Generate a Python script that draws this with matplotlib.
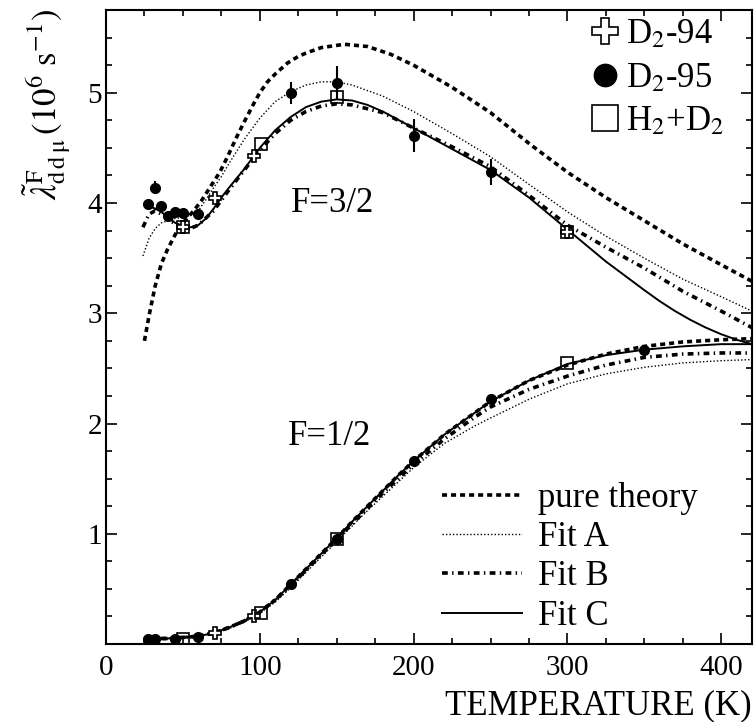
import matplotlib
matplotlib.use("Agg")
import matplotlib.pyplot as plt
from matplotlib.ticker import MultipleLocator
from matplotlib.lines import Line2D

plt.rcParams['font.family'] = ['Liberation Serif', 'DejaVu Serif']
plt.rcParams['mathtext.fontset'] = 'stix'

# ---------------- data ----------------
# F = 3/2 measured points
d294_T_32 = [50, 71, 96, 300]
d294_y_32 = [3.78, 4.05, 4.43, 3.74]
d295_T_32 = [27, 32, 36, 40, 45, 50, 60, 120, 150, 200, 250]
d295_y_32 = [3.99, 4.14, 3.97, 3.88, 3.92, 3.91, 3.90, 5.00, 5.09, 4.61, 4.28]
d295_e_32 = [0.02, 0.06, 0.03, 0.03, 0.04, 0.04, 0.03, 0.10, 0.15, 0.15, 0.12]
hd_T_32 = [50, 101, 150, 300]
hd_y_32 = [3.78, 4.54, 4.96, 3.74]

# F = 1/2 measured points
d294_T_12 = [71, 96]
d294_y_12 = [0.10, 0.25]
d295_T_12 = [27, 32, 45, 60, 120, 150, 200, 250, 350]
d295_y_12 = [0.05, 0.05, 0.05, 0.06, 0.54, 0.95, 1.66, 2.22, 2.67]
hd_T_12 = [50, 101, 150, 300]
hd_y_12 = [0.05, 0.28, 0.95, 2.55]

# F = 3/2 curves
pure_T_32 = [25, 28, 32, 36, 40, 46, 50, 57, 62, 68, 74, 79, 85, 90, 96, 100, 105, 110, 118, 125,
             130, 140, 155, 170, 185, 200, 225, 250, 276, 300, 325, 350, 375, 400, 420]
pure_y_32 = [2.75, 2.98, 3.25, 3.45, 3.58, 3.74, 3.82, 3.93, 4.02, 4.15, 4.28, 4.42, 4.60, 4.74,
             4.90, 5.00, 5.10, 5.17, 5.27, 5.33, 5.36, 5.41, 5.44, 5.42, 5.35, 5.25, 5.05, 4.82,
             4.53, 4.28, 4.05, 3.84, 3.63, 3.44, 3.29]
fitA_T_32 = [24, 28, 32, 36, 40, 45, 50, 55, 60, 65, 70, 75, 80, 90, 100, 110, 120, 130, 140,
             150, 160, 180, 200, 225, 250, 276, 300, 325, 350, 375, 400, 420]
fitA_y_32 = [3.52, 3.68, 3.77, 3.82, 3.84, 3.86, 3.87, 3.89, 3.93, 4.03, 4.14, 4.24, 4.36, 4.58,
             4.77, 4.92, 5.01, 5.07, 5.10, 5.10, 5.07, 4.97, 4.83, 4.63, 4.42, 4.16, 3.92, 3.70,
             3.50, 3.31, 3.15, 3.02]
fitB_T_32 = [24, 28, 32, 36, 40, 45, 50, 55, 60, 70, 80, 90, 100, 110, 120, 130, 140, 150, 160,
             180, 200, 225, 250, 275, 300, 325, 350, 375, 400, 420]
fitB_y_32 = [3.78, 3.90, 3.93, 3.90, 3.86, 3.81, 3.78, 3.77, 3.80, 3.93, 4.12, 4.30, 4.48, 4.63,
             4.75, 4.83, 4.88, 4.90, 4.89, 4.82, 4.68, 4.51, 4.33, 4.07, 3.80, 3.60, 3.41, 3.20,
             3.02, 2.87]
fitC_T_32 = [28, 32, 36, 40, 45, 50, 55, 60, 65, 70, 75, 80, 90, 100, 110, 120, 130, 140, 150,
             160, 170, 180, 200, 225, 250, 275, 300, 325, 350, 360, 370, 380, 390, 400, 410, 420]
fitC_y_32 = [3.97, 3.95, 3.92, 3.87, 3.82, 3.79, 3.78, 3.80, 3.86, 3.95, 4.05, 4.14, 4.31, 4.50,
             4.66, 4.78, 4.87, 4.92, 4.94, 4.93, 4.89, 4.83, 4.68, 4.49, 4.30, 4.05, 3.76, 3.47,
             3.21, 3.11, 3.02, 2.94, 2.87, 2.81, 2.76, 2.72]

# F = 1/2 curves
T_12 = [25, 30, 40, 50, 60, 70, 80, 90, 100, 110, 120, 130, 140, 150, 160, 170, 180, 190, 200,
        220, 240, 250, 275, 300, 325, 350, 375, 400, 420]
pure_y_12 = [0.05, 0.05, 0.05, 0.06, 0.07, 0.10, 0.15, 0.21, 0.29, 0.40, 0.54, 0.68, 0.82, 0.96,
             1.11, 1.25, 1.39, 1.53, 1.66, 1.90, 2.10, 2.20, 2.39, 2.53, 2.63, 2.70, 2.74, 2.76, 2.77]
fitA_y_12 = [0.05, 0.05, 0.05, 0.06, 0.07, 0.10, 0.14, 0.20, 0.28, 0.38, 0.51, 0.65, 0.79, 0.93,
             1.07, 1.21, 1.34, 1.47, 1.60, 1.82, 1.98, 2.05, 2.22, 2.36, 2.45, 2.51, 2.55, 2.57, 2.58]
fitB_y_12 = [0.05, 0.05, 0.05, 0.06, 0.07, 0.10, 0.15, 0.21, 0.29, 0.40, 0.53, 0.67, 0.81, 0.95,
             1.09, 1.23, 1.37, 1.50, 1.63, 1.86, 2.06, 2.15, 2.31, 2.43, 2.53, 2.60, 2.63, 2.64, 2.64]
fitC_y_12 = [0.05, 0.05, 0.05, 0.06, 0.07, 0.10, 0.15, 0.21, 0.29, 0.40, 0.54, 0.68, 0.82, 0.96,
             1.11, 1.25, 1.39, 1.53, 1.66, 1.90, 2.10, 2.20, 2.39, 2.54, 2.62, 2.67, 2.70, 2.72, 2.72]

series_labels = ['D$_2$-94', 'D$_2$-95', 'H$_2$+D$_2$']
curve_labels = ['pure theory', 'Fit A', 'Fit B', 'Fit C']
x_ticks = [0, 100, 200, 300, 400]
y_ticks = [1, 2, 3, 4, 5]

# ---------------- figure ----------------
fig = plt.figure(figsize=(7.54, 7.22), dpi=100)
ax = fig.add_axes([0.1406, 0.108, 0.8567, 0.878])

st_pure = dict(color='black', lw=2.6, linestyle=(0, (1.4, 1.1)))
st_A = dict(color='black', lw=1.0, linestyle=(0, (1, 1.5)))
st_B = dict(color='black', lw=2.6, linestyle=(0, (1.6, 1.2, 0.4, 1.2)))
st_C = dict(color='black', lw=1.4, linestyle='-')

lp, = ax.plot(pure_T_32, pure_y_32, **st_pure)
la, = ax.plot(fitA_T_32, fitA_y_32, **st_A)
lb, = ax.plot(fitB_T_32, fitB_y_32, **st_B)
lc, = ax.plot(fitC_T_32, fitC_y_32, **st_C)
ax.plot(T_12, pure_y_12, **st_pure)
ax.plot(T_12, fitA_y_12, **st_A)
ax.plot(T_12, fitB_y_12, **st_B)
ax.plot(T_12, fitC_y_12, **st_C)

mk_cross = dict(marker='P', ms=8, mfc='white', mec='black', mew=1.2, ls='none')
mk_circ = dict(marker='o', ms=7, mfc='black', mec='black', ls='none')
mk_sq = dict(marker='s', ms=8, mfc='none', mec='black', mew=1.2, ls='none')

ax.errorbar(d295_T_32, d295_y_32, yerr=d295_e_32, ecolor='black', elinewidth=1.5, capsize=0, **mk_circ)
ax.plot(d295_T_12, d295_y_12, **mk_circ)
hc, = ax.plot(d294_T_32, d294_y_32, **mk_cross)
ax.plot(d294_T_12, d294_y_12, **mk_cross)
hs, = ax.plot(hd_T_32, hd_y_32, **mk_sq)
ax.plot(hd_T_12, hd_y_12, **mk_sq)
hcirc = Line2D([], [], **mk_circ)

ax.text(120, 4.0, 'F=3/2', fontsize=25, va='center', ha='left')
ax.text(118, 1.88, 'F=1/2', fontsize=25, va='center', ha='left')

leg1 = ax.legend([hc, hcirc, hs], series_labels, loc='upper right', bbox_to_anchor=(0.995, 1.025),
                 frameon=False, fontsize=25, handlelength=0.8, handletextpad=0.2,
                 labelspacing=0.3, markerscale=2.3, borderaxespad=0.3)
ax.add_artist(leg1)
ax.legend([lp, la, lb, lc], curve_labels, loc='lower right', bbox_to_anchor=(0.948, -0.015),
          frameon=False, fontsize=25, handlelength=2.3, handletextpad=0.45,
          labelspacing=0.18, borderaxespad=0.2)

ax.set_xlim(0, 420)
ax.set_ylim(0, 5.75)
ax.set_xticks(x_ticks)
ax.set_yticks(y_ticks)
ax.xaxis.set_minor_locator(MultipleLocator(25))
ax.yaxis.set_minor_locator(MultipleLocator(0.25))
ax.tick_params(which='both', direction='in', top=True, right=True, labelsize=21, width=1.2)
ax.tick_params(which='major', length=8)
ax.tick_params(which='minor', length=4)
ax.tick_params(axis='y', pad=3)
ax.tick_params(axis='x', pad=8)
for s in ax.spines.values():
    s.set_linewidth(1.5)

ax.set_xlabel('TEMPERATURE (K)', fontsize=25, ha='right', x=1.0, labelpad=6)
fig.text(0.063, 0.987,
         r'$\tilde{\lambda}^{\mathrm{F}}_{\mathrm{d\,d\,\mu}}\,(10^{6}\ \mathrm{s}^{-1})$',
         rotation=90, fontsize=25, ha='center', va='top')

fig.savefig('out.png', dpi=100)
